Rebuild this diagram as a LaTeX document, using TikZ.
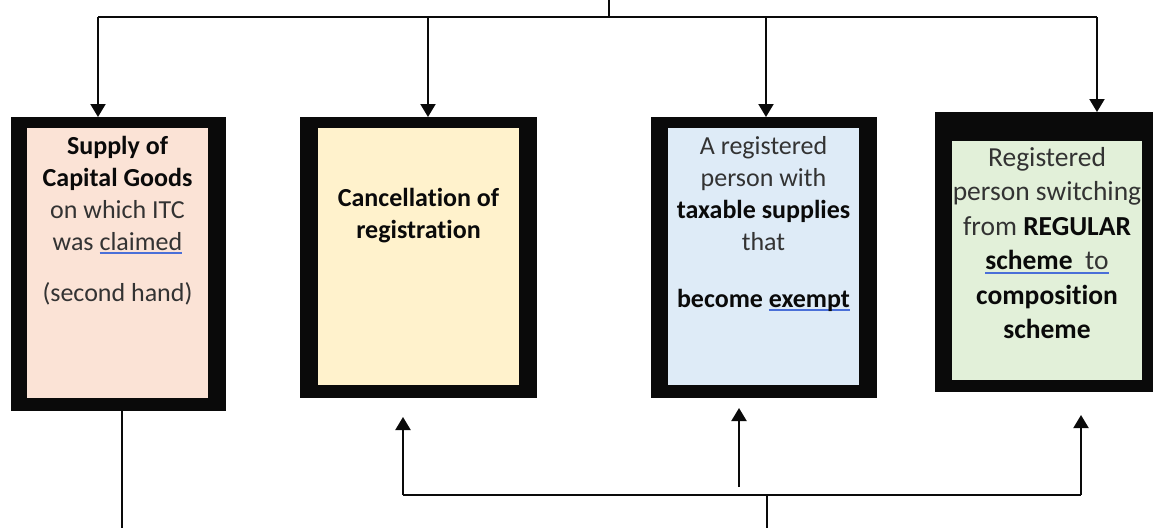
\documentclass[tikz,border=0pt]{standalone}
\usepackage{fontspec}
\setmainfont{Carlito}[RawFeature={-liga;-clig;-dlig;-rlig;-calt}]
\usetikzlibrary{arrows.meta}
\definecolor{txt}{HTML}{333333}
\definecolor{bk}{HTML}{0A0A0A}
\definecolor{peach}{HTML}{FBE3D6}
\definecolor{cream}{HTML}{FFF2CC}
\definecolor{lblue}{HTML}{DEEBF7}
\definecolor{lgreen}{HTML}{E2F0D9}
\definecolor{ulblue}{HTML}{4A6FD8}
\newcommand\blueul[1]{\setbox0\hbox{#1}\rlap{\color{ulblue}\rule[-4pt]{\wd0}{2pt}}\box0}
\newcommand\bft[1]{\textbf{\color{bk}#1}}
\newcommand\nolig{\kern0pt\relax}
\begin{document}
\begin{tikzpicture}[x=1pt,y=-1pt,
  outerbox/.style={rectangle,fill=bk,draw=none,inner sep=0pt,outer sep=0pt},
  innerbox/.style={rectangle,draw=none,inner sep=0pt,outer sep=0pt},
  boxtext/.style={align=center,anchor=north,inner sep=0pt,text=txt,font=\fontsize{26}{32}\selectfont},
  ln/.style={draw=bk,line width=2pt},
  arr/.style={draw=bk,line width=2pt,-{Triangle[length=13pt,width=15pt]}}]
\fill[white] (0,0) rectangle (1153,528);
\useasboundingbox (0,0) rectangle (1153,528);
% boxes
\node[outerbox,minimum width=215pt,minimum height=294pt] (o1) at (118.5,264) {};
\node[innerbox,fill=peach,minimum width=181pt,minimum height=270pt] (i1) at (117.5,263) {};
\node[outerbox,minimum width=237pt,minimum height=281pt] (o2) at (418.5,257.5) {};
\node[innerbox,fill=cream,minimum width=201pt,minimum height=257pt] (i2) at (418.5,256.5) {};
\node[outerbox,minimum width=226pt,minimum height=281pt] (o3) at (764,257.5) {};
\node[innerbox,fill=lblue,minimum width=191pt,minimum height=257pt] (i3) at (763.5,256.5) {};
\node[outerbox,minimum width=230pt,minimum height=280pt] (o4) at (1050,252) {};
\node[innerbox,fill=lgreen,minimum width=190pt,minimum height=239pt] (i4) at (1047,260.5) {};
% texts
\node[boxtext] (t1) at (117.5,136) {\bft{Supply of}\\\bft{Capital Goods}\\on which ITC\\was \blueul{claimed}\\[19pt](second hand)};
\node[boxtext] (t2) at (418.5,188) {\bft{Cancellat\nolig ion of}\\\bft{registrat\nolig ion}};
\node[boxtext] (t3) at (763.5,136) {A registered\\person with\\\bft{taxable supplies}\\that\\[25pt]\bft{become \blueul{exempt}}};
\node[boxtext,font=\fontsize{27.5}{34.5}\selectfont] (t4) at (1047,147) {Registered\\person switching\\from \bft{REGULAR}\\\blueul{\bft{scheme}\ \ to}\\\bft{composition}\\\bft{scheme}};
% top bus
\coordinate (top) at (609,0);
\coordinate (bt) at (609,17);
\coordinate (bL) at (98,17);
\coordinate (b2) at (428,17);
\coordinate (b3) at (766,17);
\coordinate (bR) at (1097,17);
\draw[ln] (top) -- (bt);
\draw[ln] (bL) -- (bR);
\draw[arr] (bL) -- (bL |- o1.north);
\draw[arr] (b2) -- (b2 |- o2.north);
\draw[arr] (b3) -- (b3 |- o3.north);
\draw[arr] (bR) -- (bR |- o4.north);
% bottom
\coordinate (d1) at (122,528);
\draw[ln] (d1 |- o1.south) -- (d1);
\coordinate (uL) at (403,495);
\coordinate (u3) at (739,495);
\coordinate (uR) at (1081,495);
\coordinate (s) at (767,495);
\coordinate (sEnd) at (767,528);
\draw[ln] (uL) -- (uR);
\draw[ln] (s) -- (sEnd);
\draw[arr,shorten >=19pt] (uL) -- (uL |- o2.south);
\draw[arr,shorten <=8pt,shorten >=10pt] (u3) -- (u3 |- o3.south);
\draw[arr,shorten >=23pt] (uR) -- (uR |- o4.south);
\end{tikzpicture}
\end{document}
